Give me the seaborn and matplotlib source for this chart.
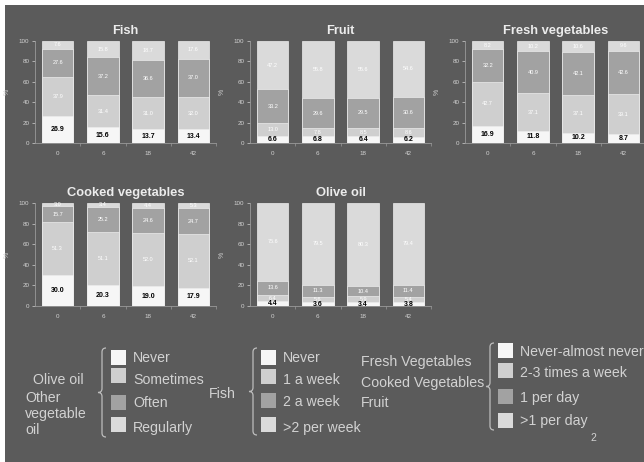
import matplotlib
matplotlib.use("Agg")
import matplotlib.pyplot as plt
from matplotlib.patches import Rectangle, PathPatch
from matplotlib.path import Path
import seaborn as sns
import numpy as np

sns.set_theme(style="white")
plt.rcParams["font.family"] = ["Liberation Sans", "DejaVu Sans"]

# Follow-up time points (months)
months = ["0", "6", "18", "42"]

# Fish: Never / 1 a week / 2 a week / >2 per week
fish_never = [26.9, 15.6, 13.7, 13.4]
fish_1w = [37.9, 31.4, 31.0, 32.0]
fish_2w = [27.6, 37.2, 36.6, 37.0]
fish_gt2 = [7.6, 15.8, 18.7, 17.6]

# Fruit: Never-almost never / 2-3 times a week / 1 per day / >1 per day
fruit_never = [6.6, 6.8, 6.4, 6.2]
fruit_23w = [13.0, 7.8, 8.5, 8.6]
fruit_1d = [33.2, 29.6, 29.5, 30.6]
fruit_gt1d = [47.2, 55.8, 55.6, 54.6]

# Fresh vegetables
fresh_never = [16.9, 11.8, 10.2, 8.7]
fresh_23w = [42.7, 37.1, 37.1, 39.1]
fresh_1d = [32.2, 40.9, 42.1, 42.6]
fresh_gt1d = [8.2, 10.2, 10.6, 9.6]

# Cooked vegetables
cooked_never = [30.0, 20.3, 19.0, 17.9]
cooked_23w = [51.3, 51.1, 52.0, 52.1]
cooked_1d = [15.7, 25.2, 24.6, 24.7]
cooked_gt1d = [3.0, 3.4, 4.4, 5.3]

# Olive oil: Never / Sometimes / Often / Regularly
olive_never = [4.4, 3.6, 3.4, 3.8]
olive_some = [6.4, 5.6, 5.9, 5.4]
olive_often = [13.6, 11.3, 10.4, 11.4]
olive_reg = [75.6, 79.5, 80.3, 79.4]

panel_titles = ["Fish", "Fruit", "Fresh vegetables", "Cooked vegetables", "Olive oil"]
panel_data = [
    [fish_never, fish_1w, fish_2w, fish_gt2],
    [fruit_never, fruit_23w, fruit_1d, fruit_gt1d],
    [fresh_never, fresh_23w, fresh_1d, fresh_gt1d],
    [cooked_never, cooked_23w, cooked_1d, cooked_gt1d],
    [olive_never, olive_some, olive_often, olive_reg],
]

legend_oil = ["Never", "Sometimes", "Often", "Regularly"]
legend_week = ["Never", "1 a week", "2 a week", ">2 per week"]
legend_day = ["Never-almost never", "2-3 times a week", "1 per day", ">1 per day"]

BG = "#5b5b5b"
TXT = "#d2d2d2"
seg_colors = ["#f6f6f6", "#cfcfcf", "#a2a2a2", "#dadada"]
LEG_FS = 10.2

W, H = 644, 462
fig = plt.figure(figsize=(W / 100, H / 100), dpi=100, facecolor="white")

# Background layer in pixel coordinates (y downwards)
bg = fig.add_axes([0, 0, 1, 1], zorder=0)
bg.set_xlim(0, W)
bg.set_ylim(H, 0)
bg.axis("off")
bg.add_patch(Rectangle((5, 5), W - 5, H - 5, facecolor=BG, edgecolor="none"))


def px_axes(x0, x1, ytop, ybot):
    return fig.add_axes([x0 / W, 1 - ybot / H, (x1 - x0) / W, (ybot - ytop) / H], zorder=2)


boxes = [
    (35, 216, 41, 143),
    (250, 431, 41, 143),
    (465, 646, 41, 143),
    (35, 216, 203, 306),
    (250, 431, 203, 306),
]

for (x0, x1, yt, yb), title, segs in zip(boxes, panel_titles, panel_data):
    ax = px_axes(x0, x1, yt, yb)
    ax.set_facecolor("none")
    segs = np.array(segs)
    cum = np.cumsum(segs, axis=0)
    # stacked bars: draw cumulative totals from the top level down
    for k in range(3, -1, -1):
        sns.barplot(x=months, y=cum[k], order=months, color=seg_colors[k],
                    saturation=1, width=0.7, errorbar=None, ax=ax, zorder=2,
                    edgecolor="#ececec", linewidth=0.5)
    for k in range(4):
        for i in range(4):
            v = segs[k, i]
            base = cum[k, i] - v
            if k == 0:
                ax.text(i, base + v / 2, f"{v:.1f}", ha="center", va="center",
                        fontsize=5, fontweight="bold", color="black", zorder=5)
            else:
                ax.text(i, base + v / 2, f"{v:.1f}", ha="center", va="center",
                        fontsize=4, color="white", zorder=5)
    ax.set_xlim(-0.5, 3.5)
    ax.set_ylim(0, 100)
    ax.set_yticks(range(0, 101, 20))
    ax.tick_params(axis="y", labelsize=4.5, colors=TXT, length=2, width=0.5, pad=2, left=True)
    ax.tick_params(axis="x", labelsize=4.5, colors=TXT, length=0, pad=6)
    ax.set_xticks(range(4))
    ax.set_xticklabels(months)
    ax.set_xticks([0.5, 1.5, 2.5, 3.5], minor=True)
    ax.tick_params(axis="x", which="minor", length=2, width=0.5, color="#9a9a9a", bottom=True)
    ax.set_xlabel("")
    ax.set_ylabel("%", fontsize=5, color=TXT, labelpad=6)
    for side in ["top", "right"]:
        ax.spines[side].set_visible(False)
    for side in ["left", "bottom"]:
        ax.spines[side].set_color("#9a9a9a")
        ax.spines[side].set_linewidth(0.6)
    ax.set_title(title, fontsize=9.3, fontweight="bold", color="#ececec", pad=5)


def brace(x, top, bot, tip=4, hook=4):
    mid = (top + bot) / 2
    verts = [(x + hook, top), (x, top), (x, top + hook),
             (x, mid - 4), (x, mid), (x - tip, mid), (x, mid), (x, mid + 4),
             (x, bot - hook), (x, bot), (x + hook, bot)]
    codes = [Path.MOVETO, Path.CURVE3, Path.CURVE3,
             Path.LINETO, Path.CURVE3, Path.CURVE3, Path.CURVE3, Path.CURVE3,
             Path.LINETO, Path.CURVE3, Path.CURVE3]
    bg.add_patch(PathPatch(Path(verts, codes), facecolor="none", edgecolor="#bdbdbd", lw=0.9))


def legend_block(px, py_list, ty_list, labels, tx):
    for k, (py, ty, lab) in enumerate(zip(py_list, ty_list, labels)):
        bg.add_patch(Rectangle((px, py), 15, 15, facecolor=seg_colors[k], edgecolor="none"))
        bg.text(tx, ty, lab, fontsize=LEG_FS, color=TXT, va="center", ha="left")


# Olive oil / other vegetable oil / fish legend
bg.text(33, 380, "Olive oil", fontsize=LEG_FS, color=TXT, va="center")
bg.text(25, 414, "Other\nvegetable\noil", fontsize=LEG_FS, color=TXT, va="center", linespacing=1.15)
brace(102, 348, 437)
legend_block(111, [350, 368, 395, 417], [358, 380, 403, 428], legend_oil, 133)
bg.text(209, 394, "Fish", fontsize=LEG_FS, color=TXT, va="center")

# Fish frequency legend
brace(253, 348, 435)
legend_block(261, [350, 369, 393, 417], [358, 380, 402, 428], legend_week, 283)
bg.text(361, 362, "Fresh Vegetables", fontsize=LEG_FS, color=TXT, va="center")
bg.text(361, 383, "Cooked Vegetables", fontsize=LEG_FS, color=TXT, va="center")
bg.text(361, 403, "Fruit", fontsize=LEG_FS, color=TXT, va="center")

# Fruit and vegetables legend
brace(490, 343, 430)
legend_block(498, [343, 363, 389, 413], [352, 373, 398, 421], legend_day, 520)
bg.text(593, 438, "2", fontsize=7.5, color=TXT, va="center", ha="center")

fig.savefig("out.png", dpi=100, facecolor="white")
